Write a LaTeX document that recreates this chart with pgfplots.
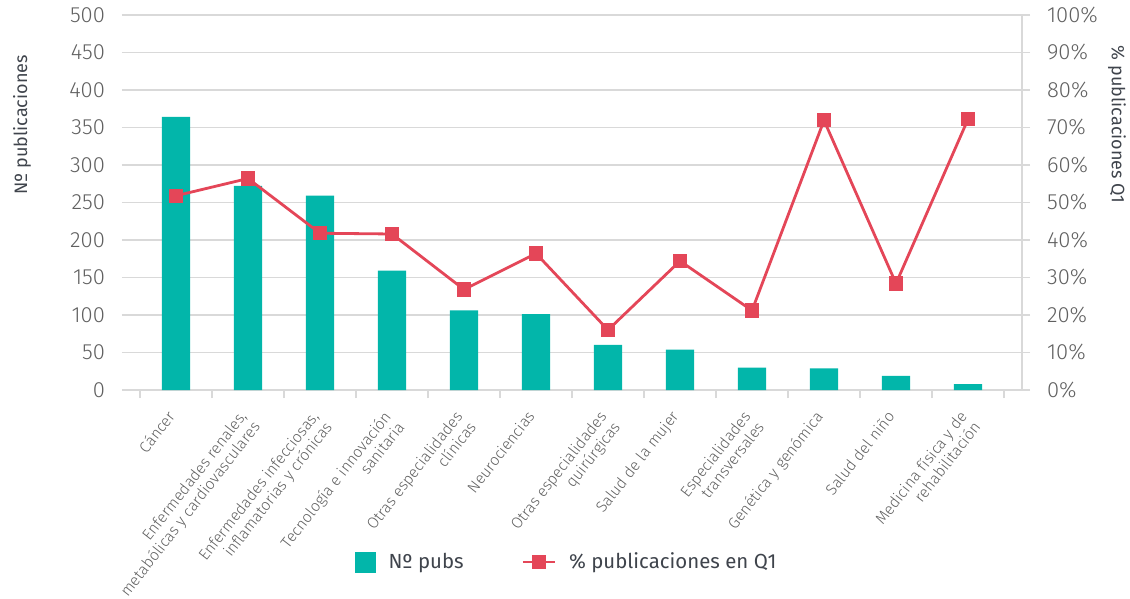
\documentclass[border=0pt]{standalone}
\usepackage{fontspec}
\setmainfont{Fira Sans}
\newfontfamily\lightfont{Fira Sans Light}
\usepackage{pgfplots}
\pgfplotsset{compat=1.18}
\definecolor{teal1}{RGB}{2,182,170}
\definecolor{red1}{RGB}{228,70,88}
\definecolor{gridc}{RGB}{217,217,217}
\definecolor{tickc}{RGB}{96,96,96}
\definecolor{txtc}{RGB}{63,68,76}
\begin{document}
\begin{tikzpicture}
\path[use as bounding box] (-61pt,-104.5pt) rectangle (504pt,195pt);
\begin{axis}[
  at={(0,0)}, anchor=south west,
  scale only axis, width=450pt, height=187.5pt,
  xmin=-0.75, xmax=11.75, ymin=0, ymax=500,
  ytick={0,50,...,500},
  axis x line*=bottom, axis y line*=left,
  y axis line style={draw=none},
  x axis line style={draw=gridc, line width=1pt},
  ymajorgrids, major grid style={draw=gridc, line width=0.9pt},
  ytick style={draw=none},
  xtick={0,...,11},
  major x tick style={draw=none},
  major tick length=0pt,
  minor xtick={-0.5,0.5,...,11.5},
  minor x tick style={draw=gridc, line width=0.9pt},
  minor tick length=4pt,
  tick align=outside,
  xticklabels={{Cáncer},{Enfermedades renales,\\metabólicas y cardiovasculares},{Enfermedades infecciosas,\\inflamatorias y crónicas},{Tecnología e innovación\\sanitaria},{Otras especialidades\\clínicas},{Neurociencias},{Otras especialidades\\quirúrgicas},{Salud de la mujer},{Especialidades\\transversales},{Genética y genómica},{Salud del niño},{Medicina física y de\\rehabilitación}},
  xticklabel style={xshift=-5pt, yshift=-9.5pt, rotate=52, anchor=north east, align=right, font=\fontsize{7.8}{8.6}\selectfont\lightfont, text=tickc, inner sep=0pt},
  /pgf/number format/assume math mode=true,
  yticklabel style={font=\fontsize{11}{12}\selectfont\lightfont, text=tickc, xshift=-5pt},
  ylabel={Nº publicaciones},
  ylabel style={font=\fontsize{9}{10}\selectfont, text=txtc, at={(axis description cs:-0.111,0.707)}, anchor=center},
  legend style={at={(0.495,-0.459)}, anchor=center, draw=none, legend columns=2, font=\fontsize{10.2}{12}\selectfont, text=txtc, /tikz/every even column/.append style={column sep=27pt}, /tikz/every odd column/.append style={column sep=4.5pt}},
  legend image code/.code={\fill[teal1] (0pt,-5.25pt) rectangle (10.5pt,5.25pt);},
]
\addplot[ybar, bar width=0.39, bar shift=0pt, fill=teal1, draw=none] coordinates {
(0,364) (1,272) (2,259) (3,159) (4,106) (5,101) (6,60) (7,54) (8,30) (9,29) (10,19) (11,8)};
\addlegendentry{Nº pubs}
\addlegendimage{legend image code/.code={\draw[red1, line width=1.2pt] (0pt,0pt) -- (16pt,0pt); \fill[red1] (4.8pt,-3.3pt) rectangle (11.2pt,3.3pt);}}
\addlegendentry{\% publicaciones en Q1}
\end{axis}
\begin{axis}[
  at={(0,0)}, anchor=south west,
  scale only axis, width=450pt, height=187.5pt,
  xmin=-0.75, xmax=11.75, ymin=0, ymax=100,
  ytick={0,10,...,100},
  axis x line=none, axis y line*=right,
  y axis line style={draw=gridc, line width=0.9pt},
  ytick style={draw=gridc, line width=0.9pt},
  major tick length=4pt, tick align=outside,
  /pgf/number format/assume math mode=true,
  yticklabel={\pgfmathprintnumber{\tick}\%},
  yticklabel style={font=\fontsize{11}{12}\selectfont\lightfont, text=tickc, xshift=5pt},
  ylabel={\% publicaciones Q1},
  ylabel style={font=\fontsize{9}{10}\selectfont, text=txtc, at={(axis description cs:1.1056,0.707)}, anchor=center, rotate=180},
]
\addplot[red1, line width=1.4pt, mark=square*, mark size=3.3pt, mark options={fill=red1, draw=red1, line width=0pt}] coordinates {
(0,51.8) (1,56.4) (2,41.8) (3,41.6) (4,26.8) (5,36.4) (6,16.0) (7,34.4) (8,21.2) (9,71.9) (10,28.4) (11,72.2)};
\end{axis}
\end{tikzpicture}
\end{document}
